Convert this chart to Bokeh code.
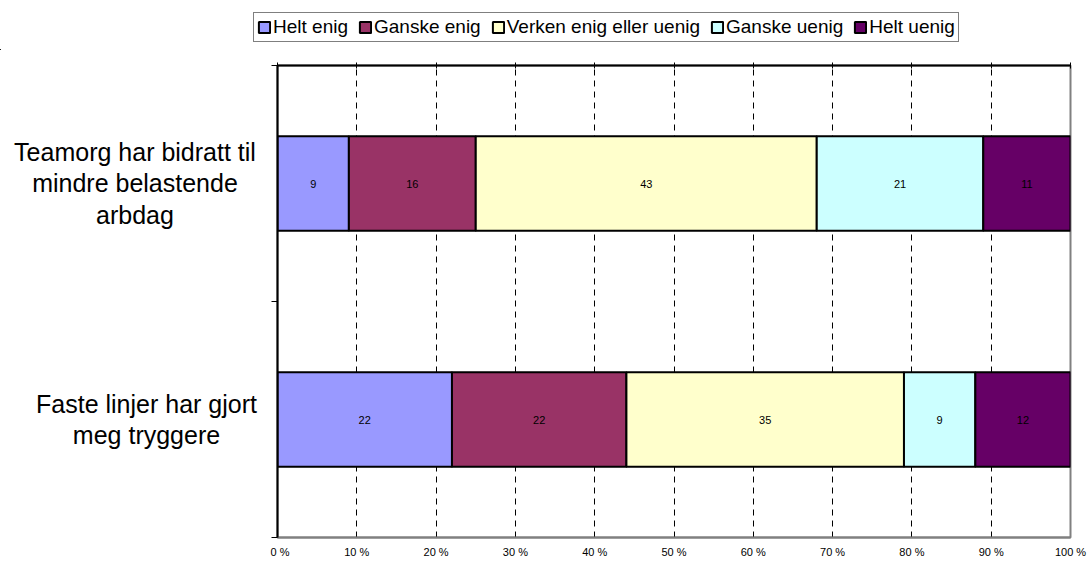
from bokeh.plotting import figure
from bokeh.layouts import column, row
from bokeh.models import (Range1d, LinearAxis, FixedTicker, PrintfTickFormatter,
                          Legend, LegendItem, ColumnDataSource)
from bokeh.embed import file_html
from bokeh.resources import INLINE
from bokeh.core.properties import value

# ---------------- data ----------------
categories = [
    "Teamorg har bidratt til\nmindre belastende\narbdag",
    "Faste linjer har gjort\nmeg tryggere",
]
series = ["Helt enig", "Ganske enig", "Verken enig eller uenig", "Ganske uenig", "Helt uenig"]
helt_enig = [9, 22]
ganske_enig = [16, 22]
verken = [43, 35]
ganske_uenig = [21, 9]
helt_uenig = [11, 12]
series_values = [helt_enig, ganske_enig, verken, ganske_uenig, helt_uenig]
colors = ["#9999FF", "#993366", "#FFFFCC", "#CCFFFF", "#660066"]
x_ticks = [0, 10, 20, 30, 40, 50, 60, 70, 80, 90, 100]

FONT = "Liberation Sans"

n = len(categories)
ys = [n - i - 0.5 for i in range(n)]
totals = [sum(vals[i] for vals in series_values) for i in range(n)]

W, H = 1091, 563
LEG_H = 50          # height of the legend strip
LAB_W = 270         # width of the category-label strip
y_range = Range1d(0, n)

# one source per series (shared by the chart and the legend strip)
sources = []
cum = [0.0] * n
for vals in series_values:
    lefts = [cum[i] / totals[i] * 100 for i in range(n)]
    rights = [(cum[i] + vals[i]) / totals[i] * 100 for i in range(n)]
    sources.append(ColumnDataSource(dict(
        y=ys, left=lefts, right=rights, mid=[(a + b) / 2 for a, b in zip(lefts, rights)],
        label=[str(v) for v in vals])))
    cum = [cum[i] + vals[i] for i in range(n)]

# ---------------- main chart ----------------
p = figure(width=W - LAB_W, height=H - LEG_H, x_range=Range1d(0, 100), y_range=y_range,
           output_backend="svg", toolbar_location=None,
           min_border_left=7, min_border_right=21, min_border_top=15, min_border_bottom=26)
p.title.visible = False
p.outline_line_color = "#808080"
p.outline_line_width = 2

xa = p.xaxis[0]
xa.ticker = FixedTicker(ticks=x_ticks)
xa.formatter = PrintfTickFormatter(format="%d %%")
xa.axis_line_color = "#808080"
xa.axis_line_width = 2
xa.major_tick_line_color = None
xa.major_tick_out = 0
xa.major_tick_in = 0
xa.minor_tick_line_color = None
xa.major_label_text_font = FONT
xa.major_label_text_font_size = "11px"
xa.major_label_text_color = "black"
xa.major_label_standoff = 8

top = LinearAxis(ticker=FixedTicker(ticks=x_ticks), axis_line_color="black", axis_line_width=2,
                 major_tick_in=3, major_tick_out=3, major_tick_line_color="black",
                 minor_tick_line_color=None, major_label_text_font_size="0px",
                 major_label_standoff=0)
p.add_layout(top, "above")

ya = p.yaxis[0]
ya.ticker = FixedTicker(ticks=list(range(n + 1)))
ya.axis_line_color = "black"
ya.axis_line_width = 2
ya.major_tick_out = 6
ya.major_tick_in = 0
ya.major_tick_line_color = "black"
ya.minor_tick_line_color = None
ya.major_label_text_font_size = "0px"
ya.major_label_standoff = 0

p.xgrid.ticker = FixedTicker(ticks=x_ticks[1:-1])
p.xgrid.grid_line_color = "black"
p.xgrid.grid_line_dash = "6 5"
p.xgrid.grid_line_width = 1
p.ygrid.visible = False

for src, col in zip(sources, colors):
    p.hbar(y="y", left="left", right="right", height=0.4, source=src, fill_color=col,
           line_color="black", line_width=2)
    p.text(x="mid", y="y", text="label", source=src, text_align="center",
           text_baseline="middle", text_font=value(FONT), text_font_size="11px",
           text_color="black")

# ---------------- category labels strip ----------------
lab = figure(width=LAB_W, height=H - LEG_H, x_range=Range1d(0, LAB_W), y_range=y_range,
             output_backend="svg", toolbar_location=None,
             x_axis_location=None, y_axis_location=None,
             min_border_left=0, min_border_right=0, min_border_top=15, min_border_bottom=26)
lab.title.visible = False
lab.outline_line_color = None
lab.grid.visible = False
label_centers = [134.5, 146]
lab.text(x=label_centers, y=ys, text=categories, text_align="center", text_baseline="middle",
         text_font=value(FONT), text_font_size="25px", text_color="black",
         text_line_height=1.12)

# ---------------- legend strip ----------------
# same series renderers, viewed through ranges that contain no bars: only the legend shows
leg = figure(width=W, height=LEG_H, x_range=Range1d(200, 300), y_range=Range1d(100, 101),
             output_backend="svg", toolbar_location=None,
             x_axis_location=None, y_axis_location=None, min_border=0)
leg.title.visible = False
leg.outline_line_color = None
leg.grid.visible = False
items = []
for name, src, col in zip(series, sources, colors):
    r = leg.hbar(y="y", left="left", right="right", height=0.4, source=src, fill_color=col,
                 line_color="black", line_width=2)
    items.append(LegendItem(label=name, renderers=[r]))
legend = Legend(items=items, orientation="horizontal", location=(253, 8),
                border_line_color="black", border_line_width=1,
                label_text_font=FONT, label_text_font_size="19px", label_text_color="black",
                glyph_width=14, glyph_height=14, label_standoff=2, spacing=10,
                padding=3, margin=0, background_fill_color="white", background_fill_alpha=1)
leg.add_layout(legend, "center")

layout = column(leg, row(lab, p, spacing=0), spacing=0)
open("out.html", "w").write(file_html(layout, INLINE))
